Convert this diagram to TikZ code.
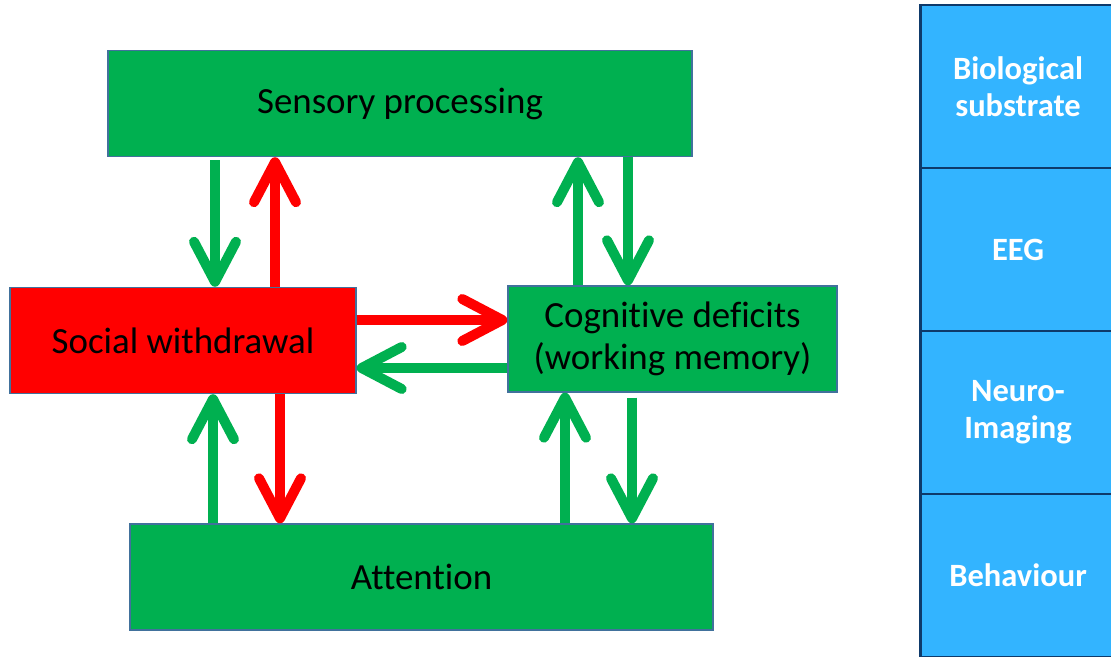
\documentclass[tikz,border=0pt]{standalone}
\usepackage{fontspec}
\setmainfont[Ligatures=NoCommon]{Carlito}
\usetikzlibrary{arrows.meta}

\definecolor{boxgreen}{HTML}{00B050}
\definecolor{boxred}{HTML}{FF0000}
\definecolor{boxline}{HTML}{41719C}
\definecolor{panelblue}{HTML}{33B4FF}
\definecolor{panelline}{HTML}{0E3A6B}

\tikzset{
  box/.style={draw=boxline, line width=0.8pt, minimum height=2.12cm,
    align=center, font=\fontsize{21}{24}\selectfont},
  panel/.style={draw=panelline, line width=1.7pt, fill=panelblue,
    minimum width=3.92cm, minimum height=3.26cm, align=center,
    text=white, font=\fontsize{18.5}{21}\selectfont\bfseries},
  link/.style={line width=0.2cm,
    -{Straight Barb[length=0.8cm, width=0.84cm, round]}},
}

\begin{document}
\begin{tikzpicture}
  \useasboundingbox (0, 0) rectangle (22.22, -13.14);
  \clip (0, 0) rectangle (22.22, -13.14);

  \node [box, fill=boxgreen, minimum width=11.68cm] (sensory) at (8.0, -2.07) {Sensory processing};
  \node [box, fill=boxred, minimum width=6.92cm] (social) at (3.66, -6.81) {Social withdrawal};
  \node [box, fill=boxgreen, minimum width=6.58cm] (cognitive) at (13.45, -6.78) {Cognitive deficits\\(working memory)};
  \node [box, fill=boxgreen, minimum width=11.66cm] (attention) at (8.43, -11.54) {Attention};

  % columns of the vertical arrows
  \coordinate (c1) at (4.3, 0);
  \coordinate (c2) at (5.5, 0);
  \coordinate (c3) at (11.56, 0);
  \coordinate (c4) at (12.56, 0);
  \coordinate (c5) at (4.26, 0);
  \coordinate (c6) at (5.6, 0);
  \coordinate (c7) at (11.3, 0);
  \coordinate (c8) at (12.64, 0);
  % rows of the horizontal arrows
  \coordinate (r1) at (0, -6.4);
  \coordinate (r2) at (0, -7.36);

  \draw [link, boxgreen, shorten <=0.06cm] (sensory.south -| c1) to (social.north -| c1);
  \draw [link, boxred] (social.north -| c2) to (sensory.south -| c2);
  \draw [link, boxgreen] (cognitive.north -| c3) to (sensory.south -| c3);
  \draw [link, boxgreen] (sensory.south -| c4) to (cognitive.north -| c4);

  \draw [link, boxred] (social.east |- r1) to (cognitive.west |- r1);
  \draw [link, boxgreen] (cognitive.west |- r2) to (social.east |- r2);

  \draw [link, boxgreen] (attention.north -| c5) to (social.south -| c5);
  \draw [link, boxred] (social.south -| c6) to (attention.north -| c6);
  \draw [link, boxgreen] (attention.north -| c7) to (cognitive.south -| c7);
  \draw [link, boxgreen, shorten <=0.1cm] (cognitive.south -| c8) to (attention.north -| c8);

  \foreach \name/\label [count=\i from 0] in
    {substrate/{Biological\\substrate}, eeg/EEG, imaging/{Neuro-\\Imaging}, behaviour/Behaviour}
  {
    \node [panel] (\name) at (20.36, {-1.73-3.26*\i}) {\label};
  }

\end{tikzpicture}
\end{document}
